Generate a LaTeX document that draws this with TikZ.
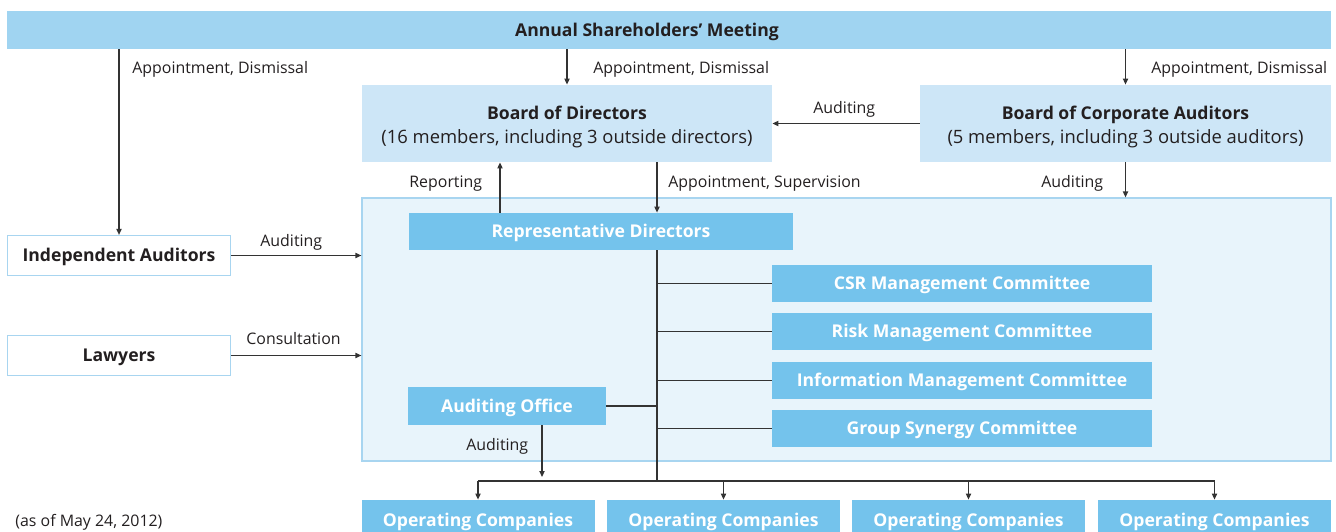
\documentclass[tikz,border=0pt]{standalone}
\usepackage{fontspec}
\setmainfont{Open Sans}
\usetikzlibrary{arrows.meta}

\definecolor{barblue}{HTML}{A0D4F1}
\definecolor{paleblue}{HTML}{CDE6F7}
\definecolor{areablue}{HTML}{E8F4FB}
\definecolor{lineblue}{HTML}{A8D5F0}
\definecolor{boxblue}{HTML}{74C3EC}
\definecolor{inkgray}{HTML}{231F20}
\definecolor{wiregray}{HTML}{333333}

\tikzset{
  box/.style={inner sep=0pt, align=center, text=inkgray},
  oneline/.style={text height=6.4pt, text depth=0pt},
  barbox/.style={box, oneline, fill=barblue, minimum width=662pt, minimum height=19pt,
    font=\fontsize{8.8}{10}\selectfont\bfseries},
  boardbox/.style={box, fill=paleblue, minimum width=205pt, minimum height=38.5pt,
    text height=20pt, text depth=0pt, font=\fontsize{9.2}{12}\selectfont},
  outbox/.style={box, oneline, draw=lineblue, line width=0.6pt, fill=white,
    minimum width=111.5pt, minimum height=20pt, font=\fontsize{8.8}{10}\selectfont\bfseries},
  unitbox/.style={box, oneline, fill=boxblue, text=white,
    font=\fontsize{8.8}{10}\selectfont\bfseries},
  lbl/.style={inner sep=0pt, anchor=west, text=inkgray, text height=6pt, text depth=0pt,
    font=\fontsize{7.95}{9}\selectfont},
  wire/.style={draw=wiregray, line width=0.6pt},
  arr/.style={wire, -{Triangle[length=3pt,width=2.6pt]}}
}

\begin{document}
\begin{tikzpicture}[x=0.5pt, y=-0.5pt]
  \useasboundingbox (0,0) rectangle (1336,531);
  \clip (0,0) rectangle (1336,531);

  % shareholders and boards
  \node[barbox] (meeting) at (669,30) {\hspace*{-22pt}Annual Shareholders’ Meeting};
  \node[boardbox] (bod) at (567,123.5)
    {{\fontsize{8.8}{12}\selectfont\bfseries Board of Directors}\\
     (16 members, including 3 outside directors)};
  \node[boardbox, minimum width=205.5pt] (bca) at (1125.5,123.5)
    {{\fontsize{8.8}{12}\selectfont\bfseries Board of Corporate Auditors}\\
     (5 members, including 3 outside auditors)};

  % execution area
  \node[draw=lineblue, line width=0.6pt, fill=areablue, inner sep=0pt,
    minimum width=484.5pt, minimum height=131.5pt] (corp) at (846.5,329.5) {};
  \node[unitbox, minimum width=192pt, minimum height=18.5pt] (rep) at (601,231.5)
    {Representative Directors};
  \node[unitbox, minimum width=99pt, minimum height=19pt] (ao) at (507,406)
    {Auditing Office};
  \node[unitbox, minimum width=190pt, minimum height=18.5pt] (cm1) at (962,283.5)
    {CSR Management Committee};
  \node[unitbox, minimum width=190pt, minimum height=18.5pt] (cm2) at (962,331.5)
    {Risk Management Committee};
  \node[unitbox, minimum width=190pt, minimum height=18.5pt] (cm3) at (962,380.5)
    {Information Management Committee};
  \node[unitbox, minimum width=190pt, minimum height=18.5pt] (cm4) at (962,428.5)
    {Group Synergy Committee};

  % outside parties
  \node[outbox] (ia) at (119,255.5) {Independent Auditors};
  \node[outbox] (law) at (119,355.5) {Lawyers};

  % operating companies
  \foreach \i/\x in {1/478, 2/723.5, 3/968.5, 4/1214.5}
    \node[unitbox, minimum width=116.5pt, minimum height=20pt] (oc\i) at (\x,520)
      {Operating Companies};

  \coordinate (split) at (657,481);

  % connectors
  \draw[arr] (ia.north |- meeting.south) -- (ia.north);
  \draw[arr] (bod.north |- meeting.south) -- (bod.north);
  \draw[arr] (bca.north |- meeting.south) -- (bca.north);
  \draw[arr] (bca.west) -- (bod.east);
  \draw[arr] (rep.north -| 500,0) -- (bod.south -| 500,0);
  \draw[arr] (bod.south -| split) -- (rep.north -| split);
  \draw[arr] (bca.south) -- (bca.south |- corp.north);
  \draw[arr] (ia.east) -- (ia.east -| corp.west);
  \draw[arr] (law.east) -- (law.east -| corp.west);
  \draw[wire] (rep.south -| split) -- (split);
  \foreach \c in {cm1,cm2,cm3,cm4}
    \draw[wire] (\c.west -| split) -- (\c.west);
  \draw[wire] (ao.east) -- (ao.east -| split);
  \draw[arr, shorten >=2pt] (ao.south -| 542,0) -- (split -| 542,0);
  \draw[wire] (oc1.north |- split) -- (oc4.north |- split);
  \foreach \i in {1,...,4}
    \draw[arr] (oc\i.north |- split) -- (oc\i.north);

  % labels
  \node[lbl] (l1) at (132,67) {Appointment, Dismissal};
  \node[lbl] (l2) at (593,67) {Appointment, Dismissal};
  \node[lbl] (l3) at (1151,67) {Appointment, Dismissal};
  \node[lbl] (l4) at (813,107) {Auditing};
  \node[lbl] (l5) at (409,181) {Reporting};
  \node[lbl] (l6) at (668,181) {Appointment, Supervision};
  \node[lbl] (l7) at (1041,181) {Auditing};
  \node[lbl] (l8) at (260,240) {Auditing};
  \node[lbl] (l9) at (246,338) {Consultation};
  \node[lbl] (l10) at (466,444) {Auditing};
  \node[lbl] (note) at (15,520) {(as of May 24, 2012)};
\end{tikzpicture}
\end{document}
